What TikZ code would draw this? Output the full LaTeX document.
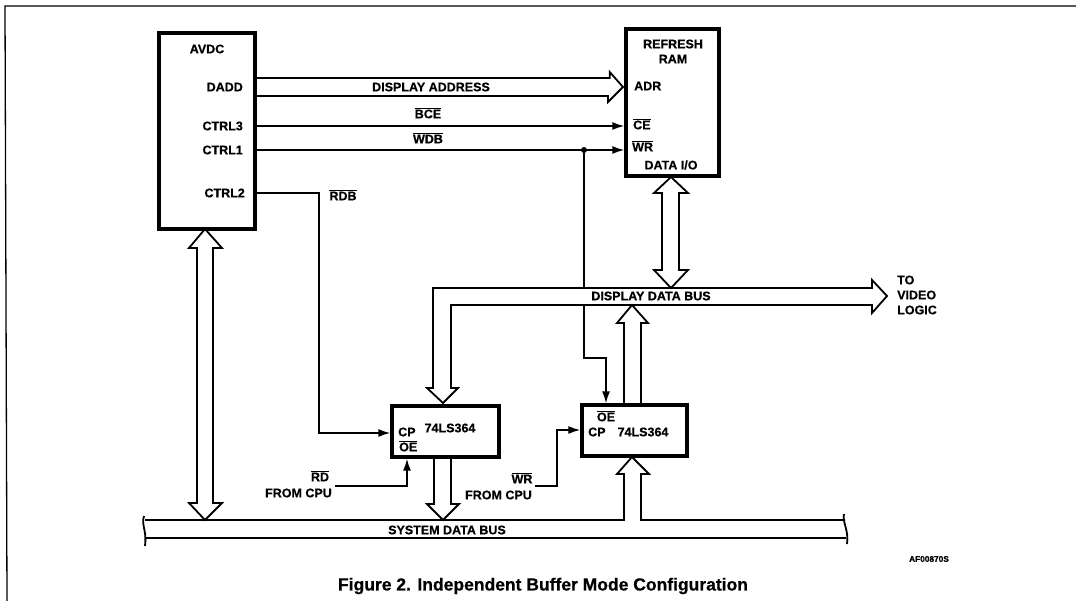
\documentclass[tikz,border=0pt]{standalone}
\usepackage{fontspec}
\setmainfont{Liberation Sans}[BoldFeatures={FakeBold=0.6}]
\usetikzlibrary{arrows.meta}
\newcommand{\lowact}[1]{$\overline{\hbox{#1}}$}
\tikzset{
  every node/.style={font=\fontsize{12.5}{15}\selectfont\bfseries, inner sep=0pt},
  chip/.style={draw, line width=3.4pt, minimum width=0pt},
  wire/.style={line width=1.5pt},
  sig/.style={wire, -{Latex[length=12pt,width=8pt]}},
  bus/.style={line width=1.8pt, line join=miter}
}
\begin{document}
\begin{tikzpicture}[x=1pt,y=-1pt]
\useasboundingbox (0,0) rectangle (1076,601);
\draw[line width=1.3pt] (1076,6) -- (5,6) -- (7,601);

% chips
\node[chip, minimum width=96pt, minimum height=196pt] (avdc) at (207,131) {};
\node[chip, minimum width=93pt, minimum height=147pt] (ram) at (672.5,102.5) {};
\node[chip, minimum width=107pt, minimum height=51pt] (latcha) at (445.5,431.5) {};
\node[chip, minimum width=105pt, minimum height=51pt] (latchb) at (634.5,430.5) {};

% left pins of the avdc
\node at (207,49) {AVDC};
\foreach \n/\y/\t in {dadd/87/DADD,ctrlc/126/CTRL3,ctrla/150/CTRL1}
    \node[anchor=east] (\n) at (243,\y) {\t};
\node[anchor=east] (ctrlb) at (245,193) {CTRL2};

% ram labels
\node at (673,44) {REFRESH};
\node at (673,59) {RAM};
\node[anchor=west] (adr) at (634,86) {ADR};
\node[anchor=west] (ce) at (633,124) {\lowact{CE}};
\node[anchor=west] (wr) at (632,146) {\lowact{WR}};
\node (dataio) at (671,165) {DATA I/O};

% latch labels
\node[anchor=west] (cpa) at (398,432) {CP};
\node[anchor=west] (oea) at (399,446) {\lowact{OE}};
\node (typea) at (450,428) {74LS364};
\node (oeb) at (606,416) {\lowact{OE}};
\node[anchor=west] (cpb) at (588,432) {CP};
\node (typeb) at (643,432) {74LS364};

% signal and bus names
\node (addrname) at (431,87) {DISPLAY ADDRESS};
\node (bcename) at (428,113) {\lowact{BCE}};
\node (wdbname) at (428,138) {\lowact{WDB}};
\node (rdbname) at (343,195) {\lowact{RDB}};
\node (dataname) at (651,296) {DISPLAY DATA BUS};
\node (sysname) at (447,530) {SYSTEM DATA BUS};
\node[anchor=west] (video) at (897,280) {TO};
\node[anchor=west] at (897,295) {VIDEO};
\node[anchor=west] at (897,310) {LOGIC};
\node (rdname) at (320,476) {\lowact{RD}};
\node[anchor=east] (cpua) at (332,493) {FROM CPU};
\node (wrname) at (522,478) {\lowact{WR}};
\node[anchor=east] (cpub) at (532,495) {FROM CPU};
\node[font=\fontsize{8.3}{10}\selectfont\bfseries] at (929,559) {AF00870S};
\node[font=\fontsize{17.5}{20}\selectfont\bfseries] at (543,586) {Figure 2. Independent Buffer Mode Configuration};

% control wires
\draw[sig] (ctrlc -| avdc.east) -- (ctrlc -| ram.west);
\draw[sig] (ctrla -| avdc.east) -- (ctrla -| ram.west);
\node[circle, fill, minimum size=6pt] (dot) at (584,150) {};
\draw[sig] (ctrlb -| avdc.east) -- (319,193) -- (319,433) -- (latcha.west |- 0,433);
\coordinate (topbus) at (584,288);
\coordinate (lowbus) at (584,305);
\draw[wire] (dot) -- (topbus);
\draw[sig] (lowbus) -- (584,358) -- (606,358) -- (606,0 |- latchb.north);
\coordinate (rdstart) at (335,486);
\coordinate (wrstart) at (535,486);
\draw[sig] (rdstart) -- (407,486) -- (407,0 |- latcha.south);
\draw[sig] (wrstart) -- (557,486) -- (557,430) -- (latchb.west |- 0,430);

% address bus
\coordinate (adrtip) at (623,87);
\draw[bus] (avdc.east |- adrtip) ++(0,-9) -- ++(353,0) -- ++(0,-6) -- (adrtip) -- ++(-15,15) -- ++(0,-6) -- ++(-353,0);

% data bus to the ram and the latches
\draw[bus] (671,177) -- ++(-17,16) -- ++(8,0) -- ++(0,77) -- ++(-8,0) -- (671,288) -- ++(17,-18) -- ++(-9,0) -- ++(0,-77) -- ++(9,0) -- cycle;
\coordinate (latchtip) at (443,403);
\draw[bus] (latchtip) -- ++(-16,-15) -- ++(6,0) -- (433,288) -- (872,288) -- ++(0,-8) -- (887,296) -- (872,313) -- ++(0,-8) -- (451,305) -- (451,388) -- ++(7,0) -- cycle;
\draw[bus] (624,405) -- (624,323) -- ++(-7,0) -- (632,305) -- (648,323) -- ++(-7,0) -- (641,405);

% system bus
\coordinate (sysleft) at (145,520);
\coordinate (sysright) at (845,520);
\draw[bus] (sysleft) -- (624,520) -- (624,474) -- ++(-7,0) -- (632,457) -- (649,474) -- ++(-8,0) -- (641,520) -- (sysright);
\draw[bus] (sysleft) ++(1,18) -- ++(700,0);
\draw[bus] (144,516) .. controls (141,525) and (147,530) .. (145,546);
\draw[bus] (844,514) .. controls (842,522) and (849,530) .. (847,544);

% avdc to system bus, latch to system bus
\draw[bus] (205,229) -- ++(-16,19) -- ++(8,0) -- (197,503) -- ++(-8,0) -- (205,520) -- ++(17,-17) -- ++(-9,0) -- (213,248) -- ++(9,0) -- cycle;
\draw[bus] (434,457) -- (434,504) -- ++(-7,0) -- (443,520) -- (459,504) -- ++(-8,0) -- (451,457);
\end{tikzpicture}
\end{document}
